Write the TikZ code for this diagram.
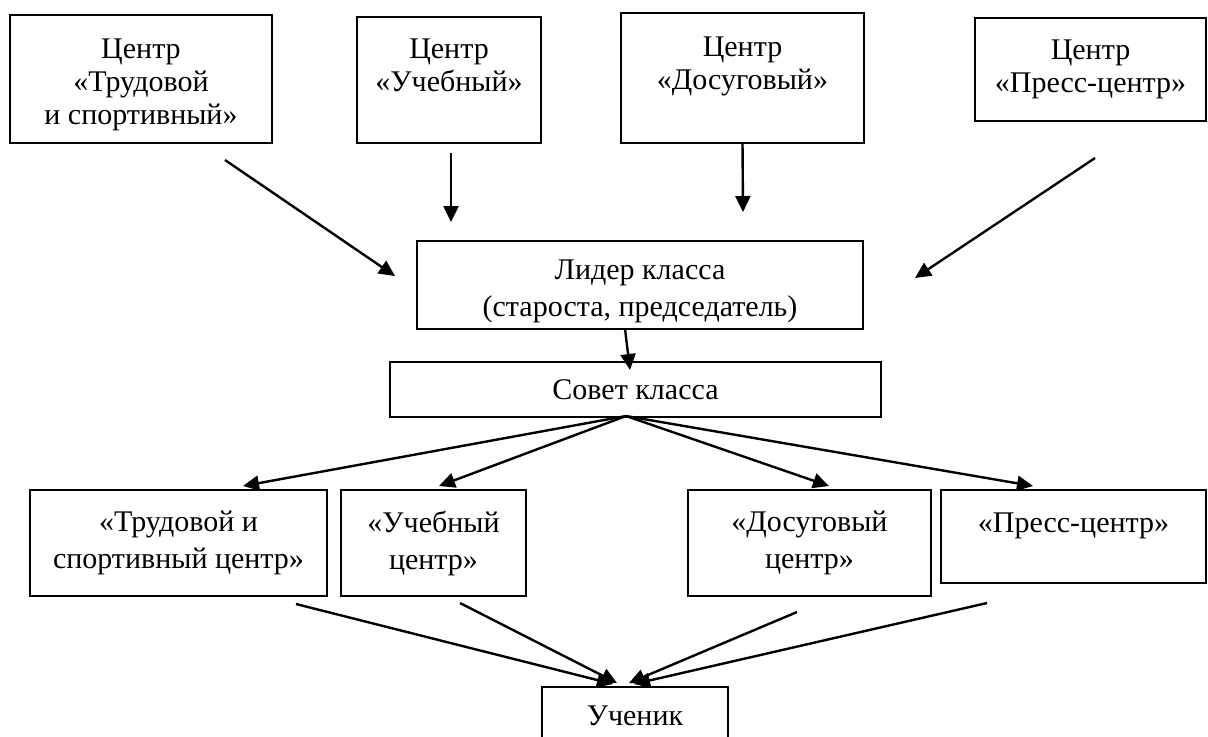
\documentclass[tikz,border=0pt]{standalone}
\usepackage{fontspec}
\setmainfont{Liberation Serif}
\usetikzlibrary{arrows.meta}

\newcommand{\lift}{\rule{0pt}{16pt}}

\tikzset{
  centrebox/.style={draw, line width=1pt, inner sep=0pt, outer sep=0pt, align=center,
    font=\fontsize{15}{16.5}\selectfont},
  levelbox/.style={centrebox, font=\fontsize{15}{18.5}\selectfont},
  link/.style={line width=1.2pt, -{Triangle[length=8pt, width=7.5pt]}}
}

\begin{document}
\begin{tikzpicture}[x=0.5pt, y=-0.5pt]
    \useasboundingbox (0,0) rectangle (1208,736);

    % centres
    \node[centrebox, minimum width=131pt, minimum height=64pt] (work) at (141,79) {\lift Центр\\«Трудовой\\и спортивный»};
    \node[centrebox, minimum width=92pt, minimum height=63pt] (study) at (449,80) {\lift Центр\\«Учебный»\\\strut};
    \node[centrebox, minimum width=121.5pt, minimum height=65pt] (leisure) at (742.5,78) {\lift Центр\\«Досуговый»\\\strut};
    \node[centrebox, minimum width=115.5pt, minimum height=51.5pt] (press) at (1090.5,69.5) {Центр\\«Пресс-центр»};

    \node[levelbox, minimum width=223pt, minimum height=44pt] (leader) at (640,285) {\lift Лидер класса\\(староста, председатель)};
    \node[levelbox, minimum width=245.5pt, minimum height=27.5pt] (council) at (635.5,389.5) {Совет класса};

    \node[levelbox, minimum width=148.5pt, minimum height=53pt] (workc) at (178.5,543) {«Трудовой и\\спортивный центр»};
    \node[levelbox, minimum width=92.5pt, minimum height=53pt] (studyc) at (433.5,543) {«Учебный\\центр»};
    \node[levelbox, minimum width=121.5pt, minimum height=53pt] (leisurec) at (809.5,543) {«Досуговый\\центр»};
    \node[levelbox, minimum width=132.5pt, minimum height=46.5pt] (pressc) at (1073.5,536.5) {«Пресс-центр»\\[-10pt]\strut};

    \node[levelbox, minimum width=93pt, minimum height=29pt] (pupil) at (635,716) {Ученик};

    % loose arrow ends
    \coordinate (work-out) at (225,160);
    \coordinate (study-out) at (451,153);
    \coordinate (press-out) at (1095,158);
    \coordinate (leader-in1) at (395,276);
    \coordinate (leader-in2) at (451,222);
    \coordinate (leader-in3) at (743,212);
    \coordinate (leader-in4) at (915,278);
    \coordinate (leader-out) at (625,329);
    \coordinate (council-in) at (630,370);
    \coordinate (council-out) at (626,416);
    \coordinate (workc-in) at (243,486);
    \coordinate (studyc-in) at (439,486);
    \coordinate (leisurec-in) at (829,486);
    \coordinate (pressc-in) at (1033,486);
    \coordinate (workc-out) at (296,604);
    \coordinate (studyc-out) at (460,603);
    \coordinate (leisurec-out) at (797,612);
    \coordinate (pressc-out) at (987,603);
    \coordinate (pupil-in1) at (613,684);
    \coordinate (pupil-in2) at (617,683);
    \coordinate (pupil-in3) at (629,683);
    \coordinate (pupil-in4) at (634,684);

    \draw[link] (work-out) -- (leader-in1);
    \draw[link] (study-out) -- (leader-in2);
    \draw[link] (leisure.south) -- (leader-in3);
    \draw[link] (press-out) -- (leader-in4);

    \draw[link] (leader-out) -- (council-in);

    \draw[link] (council-out) -- (workc-in);
    \draw[link] (council-out) -- (studyc-in);
    \draw[link] (council-out) -- (leisurec-in);
    \draw[link] (council-out) -- (pressc-in);

    \draw[link] (workc-out) -- (pupil-in1);
    \draw[link] (studyc-out) -- (pupil-in2);
    \draw[link] (leisurec-out) -- (pupil-in3);
    \draw[link] (pressc-out) -- (pupil-in4);
\end{tikzpicture}
\end{document}
